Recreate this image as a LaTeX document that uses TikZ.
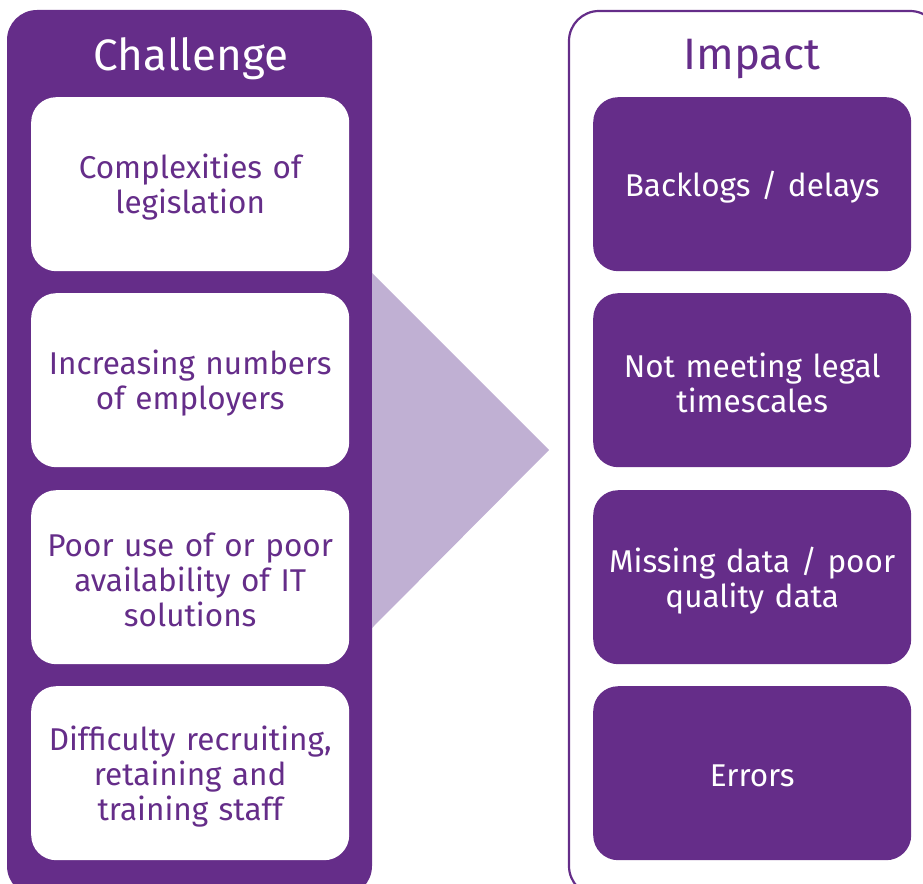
\documentclass[tikz,border=0pt]{standalone}
\usepackage{fontspec}
\setmainfont{Fira Sans}
\definecolor{pp}{HTML}{652D89}
\definecolor{lp}{HTML}{C0B0D3}
\begin{document}
\begin{tikzpicture}[x=1pt,y=-1pt,
  chbox/.style={draw=none,fill=white,rounded corners=25pt,minimum width=318pt,minimum height=174pt,anchor=north west,inner sep=0pt},
  imbox/.style={chbox,fill=pp},
  chtxt/.style={text width=316pt,align=center,text=pp,font=\fontsize{31.5}{35}\selectfont,inner sep=0pt,yshift=-3pt},
  imtxt/.style={chtxt,text=white},
  ttl/.style={font=\fontsize{44}{50}\selectfont,inner sep=0pt}]
\useasboundingbox (0,0) rectangle (923,883);
\begin{scope}
\clip (0,0) rectangle (923,883);
\fill[pp,rounded corners=30pt] (7,10) rectangle (372,896);
\fill[lp] (372,273) -- (549,450) -- (372,628) -- cycle;
\draw[pp,line width=2.2pt,rounded corners=30pt] (569,11) rectangle (940,896);
\end{scope}
\node[ttl,text=white] (cht) at (191,59) {Challenge};
\node[ttl,text=pp] (imt) at (752,59) {Impact};
\node[chbox,label={[chtxt]center:Complexities of\\legislation}] (c1) at (31,97) {};
\node[chbox,label={[chtxt]center:Increasing numbers\\of employers}] (c2) at (31,293) {};
\node[chbox,label={[chtxt]center:Poor use of or poor\\availability of IT\\solutions}] (c3) at (31,490) {};
\node[chbox,label={[chtxt]center:Difficulty recruiting,\\retaining and\\training staff}] (c4) at (31,686) {};
\node[imbox,label={[imtxt]center:Backlogs / delays}] (i1) at (593,97) {};
\node[imbox,label={[imtxt]center:Not meeting legal\\timescales}] (i2) at (593,293) {};
\node[imbox,label={[imtxt]center:Missing data / poor\\quality data}] (i3) at (593,490) {};
\node[imbox,label={[imtxt]center:Errors}] (i4) at (593,686) {};
\end{tikzpicture}
\end{document}
